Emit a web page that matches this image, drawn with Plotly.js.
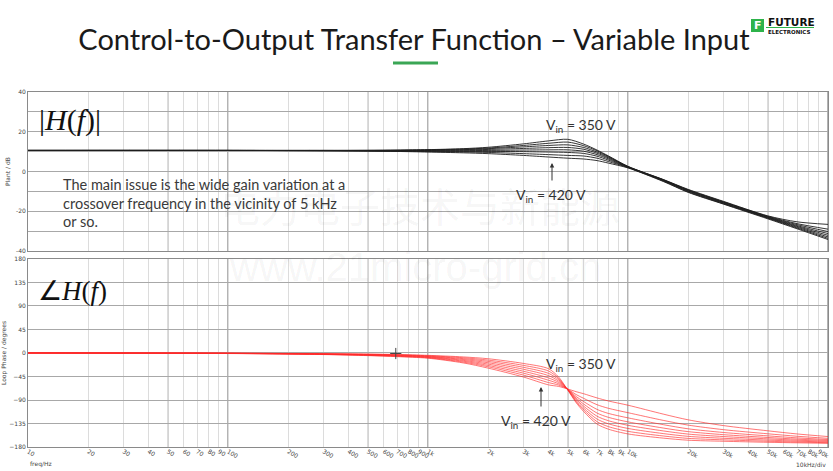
<!DOCTYPE html>
<html>
<head>
<meta charset="utf-8">
<script src="https://cdn.plot.ly/plotly-3.0.1.min.js"></script>
<style>html,body{margin:0;padding:0;background:#fff;}#chart{width:833px;height:471px;}</style>
</head>
<body>
<div id="chart"></div>
<script>
// ---- data ----
const vinLabels = ['350 V','360 V','370 V','380 V','390 V','400 V','410 V','420 V'];

const freqMag = [10,100,300,500,700,1000,1500,2000,3000,4000,5000,6000,7000,8000,10000,15000,20000,30000,50000,70000,100000];
const mag350 = [10.6,10.6,10.6,10.7,10.8,11.0,11.5,12.2,13.9,15.4,16.2,13.8,10.8,7.8,2.6,-4.0,-9.0,-15.0,-22.3,-25.3,-26.6];
const mag360 = [10.6,10.6,10.6,10.6,10.7,10.9,11.3,11.8,13.1,14.2,14.8,13.0,10.4,7.5,2.5,-4.1,-9.2,-15.2,-22.5,-26.2,-29.0];
const mag370 = [10.6,10.6,10.6,10.6,10.6,10.8,11.0,11.5,12.4,13.1,13.4,12.1,9.8,7.2,2.4,-4.2,-9.4,-15.4,-22.7,-26.7,-30.2];
const mag380 = [10.6,10.6,10.6,10.5,10.5,10.6,10.8,11.1,11.6,12.0,12.1,11.2,9.2,6.8,2.3,-4.3,-9.6,-15.6,-22.9,-27.2,-31.2];
const mag390 = [10.6,10.6,10.5,10.5,10.4,10.4,10.5,10.6,10.8,10.9,10.9,10.2,8.5,6.3,2.2,-4.4,-9.8,-15.8,-23.1,-27.6,-32.1];
const mag400 = [10.6,10.6,10.5,10.4,10.3,10.2,10.1,10.1,10.0,9.8,9.6,9.1,7.7,5.7,2.1,-4.6,-10.0,-16.0,-23.3,-28.0,-32.9];
const mag410 = [10.6,10.6,10.5,10.4,10.2,10.0,9.8,9.6,9.0,8.5,8.1,7.8,6.7,5.0,2.0,-4.8,-10.3,-16.2,-23.5,-28.4,-33.6];
const mag420 = [10.6,10.6,10.5,10.3,10.1,9.8,9.4,9.0,8.1,7.3,6.7,6.3,5.5,4.2,1.8,-5.0,-10.5,-16.4,-23.8,-28.8,-34.2];

const freqPh = [10,100,300,500,700,1000,1500,2000,3000,4000,4500,5000,5500,6000,7000,8000,10000,15000,20000,30000,50000,70000,100000];
const ph350 = [0,-0.3,-1.2,-2.0,-2.8,-4.5,-7.5,-11.0,-20.0,-30.0,-46.0,-71.0,-95.0,-112.0,-136.0,-146.0,-155.0,-163.0,-167.0,-169.0,-171.0,-172.0,-173.0];
const ph360 = [0,-0.4,-1.5,-2.4,-3.4,-5.3,-9.1,-13.6,-23.7,-34.4,-48.6,-70.7,-93.1,-108.9,-131.5,-141.1,-150.0,-158.9,-163.5,-166.3,-169.0,-170.5,-171.8];
const ph370 = [0,-0.5,-1.7,-2.9,-4.0,-6.1,-10.8,-16.1,-27.4,-38.9,-51.1,-70.4,-91.0,-105.5,-126.5,-135.7,-144.5,-154.3,-159.6,-163.3,-166.8,-168.8,-170.5];
const ph380 = [0,-0.6,-2.0,-3.3,-4.6,-6.9,-12.4,-18.7,-31.1,-43.3,-53.7,-70.1,-88.7,-101.8,-121.0,-129.8,-138.5,-149.2,-155.3,-160.0,-164.4,-166.9,-169.1];
const ph390 = [0,-0.7,-2.2,-3.7,-5.2,-7.6,-14.1,-21.3,-34.9,-47.7,-56.3,-69.9,-86.2,-97.7,-115.0,-123.3,-131.9,-143.7,-150.6,-156.4,-161.8,-164.9,-167.5];
const ph400 = [0,-0.8,-2.5,-4.1,-5.8,-8.4,-15.7,-23.9,-38.6,-52.1,-58.9,-69.6,-83.2,-93.0,-108.0,-115.8,-124.2,-137.2,-145.2,-152.2,-158.7,-162.5,-165.7];
const ph410 = [0,-0.9,-2.7,-4.6,-6.4,-9.2,-17.4,-26.4,-42.3,-56.6,-61.4,-69.3,-79.5,-86.8,-99.0,-106.0,-114.3,-129.0,-138.1,-146.8,-154.7,-159.4,-163.4];
const ph420 = [0,-1.0,-3.0,-5.0,-7.0,-10.0,-19.0,-29.0,-46.0,-61.0,-64.0,-69.0,-74.0,-78.0,-86.0,-92.0,-100.0,-117.0,-128.0,-139.0,-149.0,-155.0,-160.0];

const cursorFreq = [690];
const cursorPhase = [-1];

const xTickVals = [10,20,30,40,50,60,70,80,90,100,200,300,400,500,600,700,800,900,1000,2000,3000,4000,5000,6000,7000,8000,9000,10000,20000,30000,40000,50000,60000,70000,80000,90000,100000];
const xTickText = ['10','20','30','40','50','60','70','80','90','100','200','300','400','500','600','700','800','900','1k','2k','3k','4k','5k','6k','7k','8k','9k','10k','20k','30k','40k','50k','60k','70k','80k','90k','100k'];
const majorGridHz = [50,100,500,1000,5000,10000,50000,100000];
const magTickVals = [-40,-30,-20,-10,0,10,20,30,40];
const magTickText = ['-40','','-20','','0','','20','','40'];
const phTickVals = [-180,-135,-90,-45,0,45,90,135,180];

const magSeries = [mag350,mag360,mag370,mag380,mag390,mag400,mag410,mag420];
const phSeries = [ph350,ph360,ph370,ph380,ph390,ph400,ph410,ph420];

// ---- traces ----
const traces = [];
magSeries.forEach((s,i)=>traces.push({
  type:'scatter', mode:'lines', x:freqMag, y:s, xaxis:'x', yaxis:'y',
  name:'Vin '+vinLabels[i], line:{color:'#1e1e1e', width:0.9, shape:'spline', smoothing:0.8},
  showlegend:false, hoverinfo:'skip'
}));
phSeries.forEach((s,i)=>traces.push({
  type:'scatter', mode:'lines', x:freqPh, y:s, xaxis:'x2', yaxis:'y2',
  name:'Vin '+vinLabels[i], line:{color:'rgba(255,40,40,0.8)', width:0.8, shape:'spline', smoothing:0.8},
  showlegend:false, hoverinfo:'skip'
}));
traces.push({type:'scatter', mode:'markers', x:cursorFreq, y:cursorPhase, xaxis:'x2', yaxis:'y2',
  marker:{symbol:'cross-thin', size:8, line:{color:'#444', width:1}}, showlegend:false, hoverinfo:'skip'});

// ---- helpers for pixel-based decorations ----
const PL=28, PR=828, PT=92, PB=447;
const XMIN=1, XMAX=5;
const px = X => (X-PL)/(PR-PL);
const py = Y => (PB-Y)/(PB-PT);
const fx = f => (Math.log10(f)-XMIN)/(XMAX-XMIN);

const tickFont = {family:'DejaVu Sans', size:6, color:'#444'};
const baseX = {type:'log', range:[XMIN,XMAX], tickvals:xTickVals, ticktext:xTickText, showgrid:true,
  gridcolor:'#dcdcdc', gridwidth:1, showline:true, linecolor:'#8a8a8a', linewidth:1, mirror:true,
  ticks:'', zeroline:false, tickfont:tickFont, fixedrange:true, ticklabelstandoff:-2};

const shapes = [];
majorGridHz.forEach(f=>{
  ['y domain','y2 domain'].forEach(yr=>shapes.push({type:'line', xref:'paper', yref:yr,
    x0:fx(f), x1:fx(f), y0:0, y1:1, line:{color:'#666', width:1}, layer:'below'}));
});
// title underline
shapes.push({type:'line', xref:'paper', yref:'paper', x0:px(393), x1:px(438), y0:py(63), y1:py(63), line:{color:'#3aa655', width:3}});
// logo
shapes.push({type:'rect', xref:'paper', yref:'paper', x0:px(751), x1:px(764), y0:py(32), y1:py(19), fillcolor:'#2db34a', line:{width:0}});
shapes.push({type:'line', xref:'paper', yref:'paper', x0:px(766), x1:px(814), y0:py(27.5), y1:py(27.5), line:{color:'#2db34a', width:1}});

const C = {xanchor:'center', yanchor:'middle', showarrow:false, xref:'paper', yref:'paper'};
const L = {xanchor:'left', yanchor:'middle', showarrow:false, xref:'paper', yref:'paper'};
const annFont = {family:'Lato, "Open Sans", sans-serif', size:14, color:'#333'};
const bodyLines = ['The main issue is the wide gain variation at a','crossover frequency in the vicinity of 5 kHz','or so.'];
const annotations = [
  Object.assign({}, C, {x:px(70), y:py(120), text:'|<i>H</i>(<i>f</i>)|', font:{family:'Liberation Serif', size:30, color:'#111'}}),
  Object.assign({}, C, {x:px(72), y:py(291), text:'∠<i>H</i>(<i>f</i>)', font:{family:'Liberation Serif', size:27, color:'#111'}}),
  Object.assign({}, L, {x:px(544), y:py(125), text:'V<sub>in</sub> = 350 V', font:annFont}),
  Object.assign({}, L, {x:px(514), y:py(195), text:'V<sub>in</sub> = 420 V', font:annFont}),
  Object.assign({}, L, {x:px(544), y:py(364), text:'V<sub>in</sub> = 350 V', font:annFont}),
  Object.assign({}, L, {x:px(499), y:py(421), text:'V<sub>in</sub> = 420 V', font:annFont}),
  {xref:'paper', yref:'paper', x:px(552), y:py(163), ax:0, ay:19, text:'', showarrow:true, arrowhead:2, arrowsize:0.9, arrowwidth:1, arrowcolor:'#333'},
  {xref:'paper', yref:'paper', x:px(541), y:py(387), ax:0, ay:21, text:'', showarrow:true, arrowhead:2, arrowsize:0.9, arrowwidth:1, arrowcolor:'#333'},
  Object.assign({}, L, {x:0, y:py(464), text:'freq/Hz', font:tickFont}),
  Object.assign({}, C, {x:1, xanchor:'right', y:py(464), text:'10kHz/div', font:tickFont}),
  // watermark
  Object.assign({}, C, {x:px(420), y:py(205), text:'电力电子技术与新能源', font:{family:'"Noto Sans CJK SC"', size:40, color:'rgba(0,0,0,0.05)'}}),
  Object.assign({}, C, {x:px(415), y:py(267), text:'www.21micro-grid.cn', font:{family:'Liberation Sans', size:40, color:'rgba(0,0,0,0.05)'}}),
  // logo text
  Object.assign({}, C, {x:px(757.5), y:py(25.5), text:'<b>F</b>', font:{family:'DejaVu Sans', size:11, color:'#fff'}}),
  Object.assign({}, L, {x:px(766), y:py(22), text:'<b>FUTURE</b>', font:{family:'DejaVu Sans', size:10.5, color:'#111'}}),
  Object.assign({}, L, {x:px(766), y:py(31.5), text:'<b>ELECTRONICS</b>', font:{family:'DejaVu Sans', size:5.5, color:'#111'}})
];
bodyLines.forEach((t,i)=>annotations.push(Object.assign({}, L, {x:px(61), y:py(184+19*i),
  text:t, font:{family:'Lato, sans-serif', size:14.5, color:'#3a3a3a'}})));

const layout = {
  width:833, height:471,
  margin:{l:PL, r:833-PR, t:PT, b:471-PB},
  paper_bgcolor:'#fff', plot_bgcolor:'#fff',
  title:{text:'Control-to-Output Transfer Function – Variable Input', x:0.497, xanchor:'center', y:1-40/471, yanchor:'middle',
    font:{family:'Lato, sans-serif', size:29, color:'#1a1a1a'}},
  xaxis:Object.assign({}, baseX, {anchor:'y', showticklabels:false}),
  xaxis2:Object.assign({}, baseX, {anchor:'y2', showticklabels:true, matches:'x'}),
  yaxis:{domain:[0.552,1], range:[-40,40], tickvals:magTickVals, ticktext:magTickText, showgrid:true, gridcolor:'#a8a8a8',
    showline:true, linecolor:'#8a8a8a', mirror:true, ticks:'', zeroline:false, tickfont:tickFont, fixedrange:true,
    title:{text:'Plant / dB', font:{family:'DejaVu Sans', size:6, color:'#444'}, standoff:4}},
  yaxis2:{domain:[0,0.5296], range:[-180,180], tickvals:phTickVals, showgrid:true, gridcolor:'#a8a8a8',
    showline:true, linecolor:'#8a8a8a', mirror:true, ticks:'', zeroline:false, tickfont:tickFont, fixedrange:true,
    title:{text:'Loop Phase / degrees', font:{family:'DejaVu Sans', size:6, color:'#444'}, standoff:4}},
  shapes:shapes, annotations:annotations, showlegend:false
};
Plotly.newPlot('chart', traces, layout, {staticPlot:true, displayModeBar:false});
</script>
</body>
</html>
